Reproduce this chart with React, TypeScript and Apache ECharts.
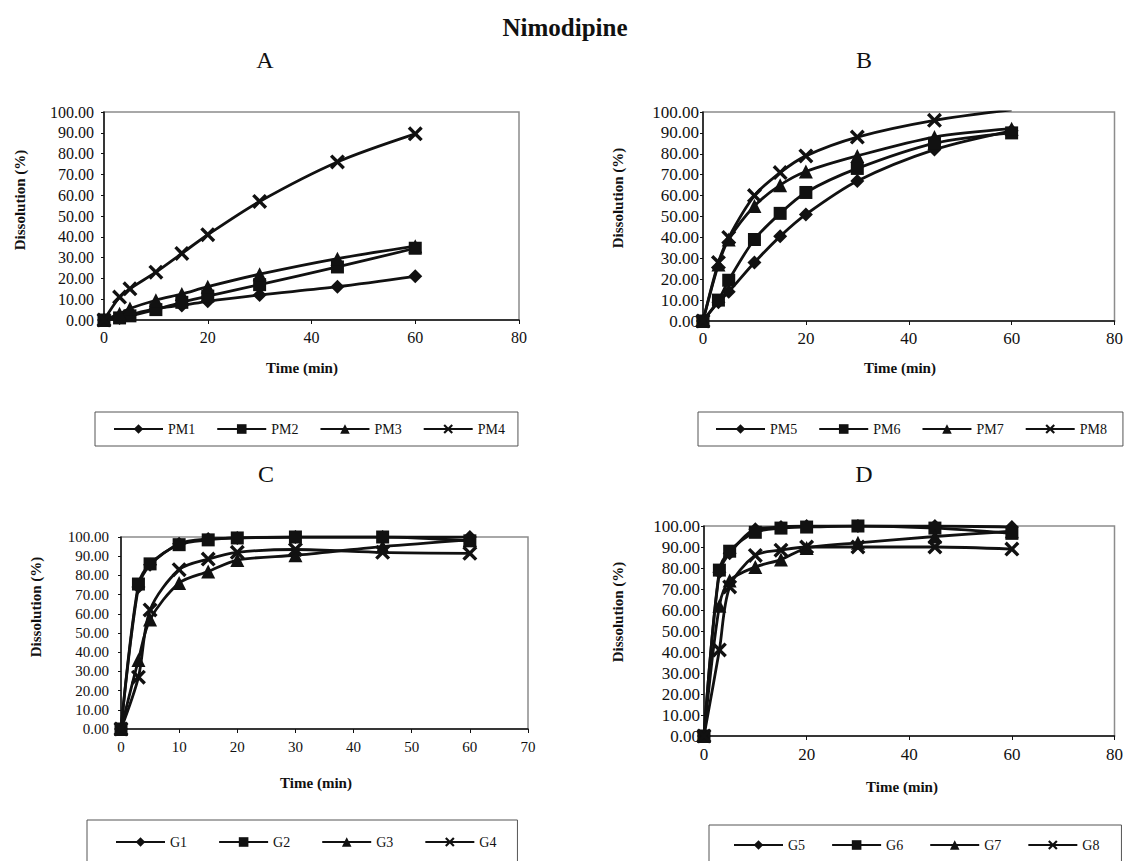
import React, { useEffect, useRef } from "react";
import * as echarts from "echarts";

// ---------- data ----------
const times = [0, 3, 5, 10, 15, 20, 30, 45, 60];

const namesA = ["PM1", "PM2", "PM3", "PM4"];
const PM1 = [0, 1, 2.5, 5.5, 7, 9, 12, 16, 21];
const PM2 = [0, 1, 2, 5, 8.5, 11.5, 17, 25.5, 34.5];
const PM3 = [0, 3, 5.5, 9.5, 12.5, 16, 22, 29.5, 35.5];
const PM4 = [0, 11, 15, 23, 32, 41, 57, 76, 89.5];

const namesB = ["PM5", "PM6", "PM7", "PM8"];
const PM5 = [0, 9, 14, 28, 40.5, 51, 67, 82, 91];
const PM6 = [0, 10, 19.5, 39, 51.5, 61.5, 73, 85, 90];
const PM7 = [0, 27, 39, 55, 65, 71.5, 79, 88, 92];
const PM8 = [0, 28, 40, 60, 71, 79, 88, 96, 101];

const namesC = ["G1", "G2", "G3", "G4"];
const G1 = [0, 74, 85.5, 96.5, 99, 99.5, 100, 100, 100];
const G2 = [0, 75.5, 86, 96, 98.5, 99.5, 100, 100, 98];
const G3 = [0, 36, 57, 76, 82, 88, 90.5, 95, 98.5];
const G4 = [0, 27, 62, 83, 88.5, 92, 93.5, 92, 91.5];

const namesD = ["G5", "G6", "G7", "G8"];
const G5 = [0, 78, 87, 98.5, 99.5, 100, 100, 100, 99.5];
const G6 = [0, 79, 88, 97, 99, 99.5, 100, 99, 96.5];
const G7 = [0, 62, 74, 80.5, 84, 89.5, 92, 95, 97.5];
const G8 = [0, 41, 71, 86, 88.5, 90, 90, 90, 89];

const panelLetters = ["A", "B", "C", "D"];
const mainTitle = "Nimodipine";
const xTitle = "Time (min)";
const yTitle = "Dissolution (%)";

// ---------- styling / layout ----------
const FONT = "'Liberation Serif', 'Times New Roman', serif";
const X_PATH =
  "path://M0,1.6 L1.6,0 L5,3.4 L8.4,0 L10,1.6 L6.6,5 L10,8.4 L8.4,10 L5,6.6 L1.6,10 L0,8.4 L3.4,5 Z";
const symbols = ["diamond", "rect", "triangle", X_PATH];
const symbolSizes = [14, 13, 14, 15];

const panels = [
  {
    names: namesA, values: [PM1, PM2, PM3, PM4],
    grid: { left: 104, top: 112, width: 415, height: 208 },
    xMax: 80, xInterval: 20, labelSize: 16, yMargin: 10, xMargin: 9,
    legend: { left: 95, top: 412, padding: [10, 13, 10, 18], itemGap: 21 },
    letter: [265, 60], xName: [302, 368], yName: [20, 200],
  },
  {
    names: namesB, values: [PM5, PM6, PM7, PM8],
    grid: { left: 703, top: 112, width: 415, height: 209 },
    xMax: 80, xInterval: 20, labelSize: 17, yMargin: 4, xMargin: 9,
    legend: { left: 698, top: 412, padding: [10, 16, 10, 17], itemGap: 21 },
    letter: [864, 60], xName: [900, 368], yName: [618, 198],
  },
  {
    names: namesC, values: [G1, G2, G3, G4],
    grid: { left: 121, top: 537, width: 407, height: 192 },
    xMax: 70, xInterval: 10, labelSize: 15, yMargin: 12, xMargin: 10,
    legend: { left: 87, top: 820, padding: [15, 21, 15, 28], itemGap: 31 },
    letter: [266, 474], xName: [316, 783], yName: [36, 607],
  },
  {
    names: namesD, values: [G5, G6, G7, G8],
    grid: { left: 704, top: 526, width: 415, height: 210 },
    xMax: 80, xInterval: 20, labelSize: 17, yMargin: 4, xMargin: 10,
    legend: { left: 709, top: 825, padding: [13, 22, 13, 24], itemGap: 26 },
    letter: [864, 474], xName: [902, 787], yName: [618, 612],
  },
];

function buildOption() {
  const grid: any[] = [];
  const xAxis: any[] = [];
  const yAxis: any[] = [];
  const legend: any[] = [];
  const series: any[] = [];
  const graphic: any[] = [];

  graphic.push({
    type: "text", x: 565, y: 27,
    style: { text: mainTitle, font: `bold 25px ${FONT}`, fill: "#111", align: "center", verticalAlign: "middle" },
  });

  panels.forEach((p, i) => {
    grid.push({
      ...p.grid, show: true, borderColor: "#8c8c8c", borderWidth: 1.5,
      backgroundColor: "#fff", containLabel: false,
    });
    xAxis.push({
      type: "value", gridIndex: i, min: 0, max: p.xMax, interval: p.xInterval,
      axisLine: { show: true, onZero: false, lineStyle: { color: "#111", width: 1.5 } },
      axisTick: { show: true, length: 4, lineStyle: { color: "#111" } },
      splitLine: { show: false },
      axisLabel: { color: "#111", fontFamily: FONT, fontSize: p.labelSize, margin: p.xMargin, showMaxLabel: true },
    });
    yAxis.push({
      type: "value", gridIndex: i, min: 0, max: 100, interval: 10,
      axisLine: { show: true, onZero: false, lineStyle: { color: "#111", width: 1.5 } },
      axisTick: { show: true, length: 3, lineStyle: { color: "#111" } },
      splitLine: { show: false },
      axisLabel: {
        color: "#111", fontFamily: FONT, fontSize: p.labelSize, margin: p.yMargin,
        formatter: (v: number) => v.toFixed(2),
      },
    });
    legend.push({
      ...p.legend, orient: "horizontal", data: p.names,
      borderColor: "#555", borderWidth: 1, backgroundColor: "#fff",
      itemWidth: 49, itemHeight: 12,
      textStyle: { fontFamily: FONT, fontSize: 14, color: "#111" },
      selectedMode: false,
    });
    p.names.forEach((name, k) => {
      series.push({
        type: "line", name, xAxisIndex: i, yAxisIndex: i,
        data: times.map((t, j) => [t, p.values[k][j]]),
        smooth: 0.3,
        symbol: symbols[k], symbolSize: symbolSizes[k],
        showAllSymbol: true, clip: true,
        lineStyle: { color: "#111", width: 2.8 },
        itemStyle: { color: "#111", borderWidth: 0 },
        emphasis: { disabled: true },
      });
    });
    graphic.push({
      type: "text", x: p.letter[0], y: p.letter[1],
      style: { text: panelLetters[i], font: `24px ${FONT}`, fill: "#111", align: "center", verticalAlign: "middle" },
    });
    graphic.push({
      type: "text", x: p.xName[0], y: p.xName[1],
      style: { text: xTitle, font: `bold 15px ${FONT}`, fill: "#111", align: "center", verticalAlign: "middle" },
    });
    graphic.push({
      type: "text", x: p.yName[0], y: p.yName[1], rotation: Math.PI / 2,
      style: { text: yTitle, font: `bold 15px ${FONT}`, fill: "#111", align: "center", verticalAlign: "middle" },
    });
  });

  return {
    animation: false,
    backgroundColor: "#fff",
    grid, xAxis, yAxis, legend, series, graphic,
  };
}

export default function App() {
  const ref = useRef<HTMLDivElement>(null);
  useEffect(() => {
    if (!ref.current) return;
    const chart = echarts.init(ref.current, undefined, { renderer: "svg" });
    chart.setOption(buildOption() as any);
    return () => chart.dispose();
  }, []);
  return (
    <div
      ref={ref}
      style={{ position: "fixed", left: 0, top: 0, width: 1126, height: 861, background: "#fff" }}
    />
  );
}
